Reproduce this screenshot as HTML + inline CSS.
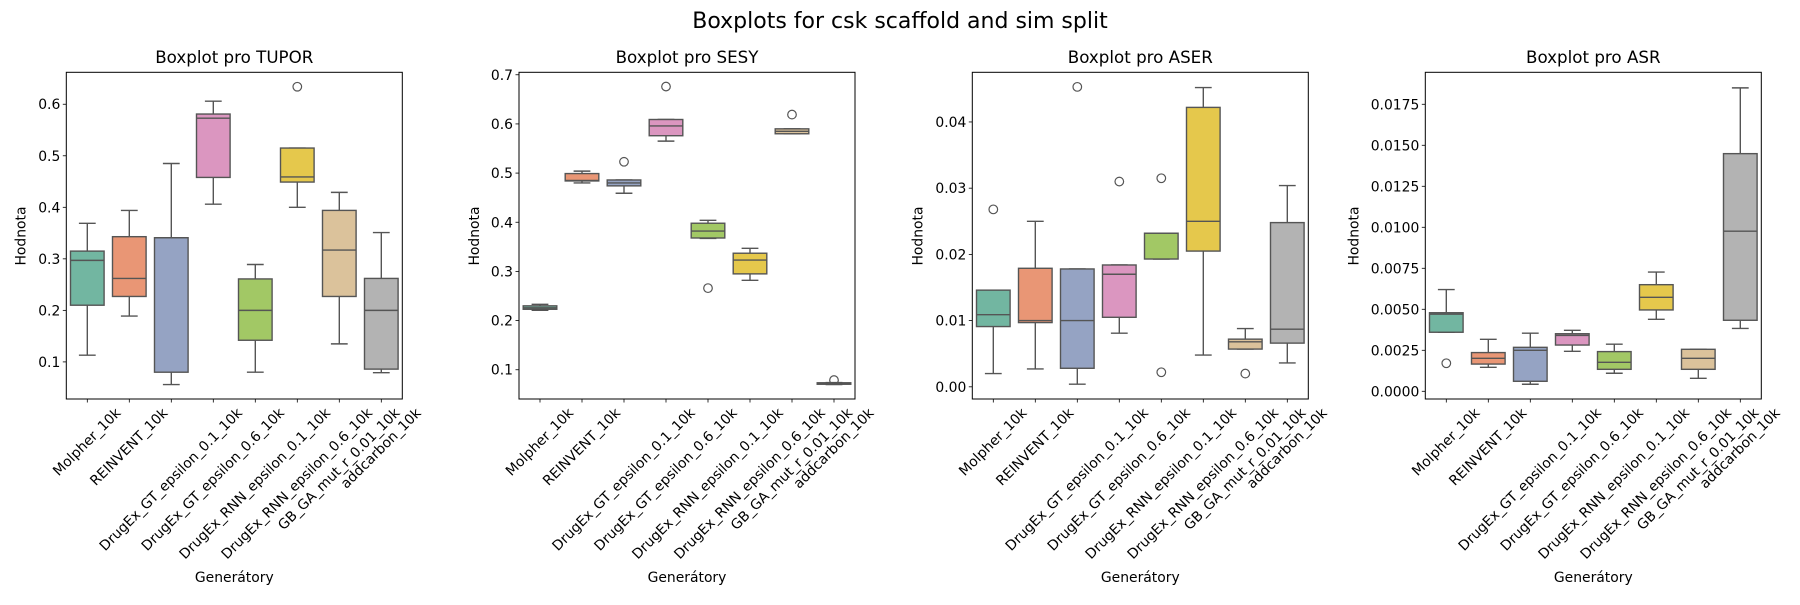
<!DOCTYPE html>
<html><head><meta charset="utf-8"><style>
body{margin:0;background:#fff;}
svg text{font-family:"DejaVu Sans","Liberation Sans",sans-serif;fill:#000;}
</style></head><body>
<svg id="fig" width="1800" height="600" viewBox="0 0 1800 600" xmlns="http://www.w3.org/2000/svg">
<rect width="1800" height="600" fill="#fff"/>
<text x="900" y="28" font-size="22" text-anchor="middle">Boxplots for csk scaffold and sim split</text>
</svg>
<script>
const categories = ["Molpher_10k","REINVENT_10k","DrugEx_GT_epsilon_0.1_10k","DrugEx_GT_epsilon_0.6_10k","DrugEx_RNN_epsilon_0.1_10k","DrugEx_RNN_epsilon_0.6_10k","GB_GA_mut_r_0.01_10k","addcarbon_10k"];
const colors = ["#72b6a1","#e99675","#95a3c3","#db96c0","#a2c865","#e5c84c","#dbc29b","#b3b3b3"];

const tuporLo  = [0.113,0.189,0.056,0.406,0.080,0.400,0.135,0.079];
const tuporQ1  = [0.210,0.227,0.080,0.458,0.142,0.449,0.227,0.086];
const tuporMed = [0.297,0.262,0.341,0.573,0.200,0.459,0.317,0.200];
const tuporQ3  = [0.315,0.343,0.341,0.581,0.261,0.515,0.394,0.262];
const tuporHi  = [0.369,0.394,0.485,0.606,0.289,0.515,0.429,0.351];
const tuporOut = [[5,0.634]];
const tuporTicks = [0.1,0.2,0.3,0.4,0.5,0.6];
const tuporTickLabels = ["0.1","0.2","0.3","0.4","0.5","0.6"];

const sesyLo  = [0.221,0.480,0.459,0.565,0.367,0.282,0.580,0.070];
const sesyQ1  = [0.223,0.484,0.474,0.576,0.368,0.295,0.580,0.0705];
const sesyMed = [0.226,0.485,0.480,0.596,0.382,0.323,0.585,0.072];
const sesyQ3  = [0.230,0.499,0.486,0.609,0.398,0.337,0.590,0.0735];
const sesyHi  = [0.233,0.504,0.486,0.609,0.404,0.347,0.590,0.074];
const sesyOut = [[2,0.523],[3,0.676],[4,0.266],[6,0.619],[7,0.079]];
const sesyTicks = [0.1,0.2,0.3,0.4,0.5,0.6,0.7];
const sesyTickLabels = ["0.1","0.2","0.3","0.4","0.5","0.6","0.7"];

const aserLo  = [0.0020,0.0027,0.0004,0.0081,0.0193,0.0048,0.0057,0.0036];
const aserQ1  = [0.0091,0.0097,0.0028,0.0105,0.0193,0.0205,0.0057,0.0066];
const aserMed = [0.0109,0.0100,0.0100,0.0170,0.0232,0.0250,0.0068,0.0087];
const aserQ3  = [0.0146,0.0179,0.0178,0.0184,0.0232,0.0422,0.0072,0.0248];
const aserHi  = [0.0146,0.0250,0.0178,0.0184,0.0232,0.0452,0.0088,0.0304];
const aserOut = [[0,0.0268],[2,0.0453],[3,0.0310],[4,0.0315],[4,0.0022],[6,0.0020]];
const aserTicks = [0,0.01,0.02,0.03,0.04];
const aserTickLabels = ["0.00","0.01","0.02","0.03","0.04"];

const asrLo  = [0.00360,0.00146,0.00043,0.00244,0.00110,0.00439,0.00079,0.00383];
const asrQ1  = [0.00360,0.00166,0.00061,0.00282,0.00134,0.00496,0.00134,0.00433];
const asrMed = [0.00470,0.00201,0.00250,0.00341,0.00177,0.00573,0.00201,0.00976];
const asrQ3  = [0.00479,0.00236,0.00268,0.00351,0.00242,0.00650,0.00256,0.01449];
const asrHi  = [0.00620,0.00317,0.00354,0.00372,0.00287,0.00727,0.00256,0.01850];
const asrOut = [[0,0.00171]];
const asrTicks = [0,0.0025,0.005,0.0075,0.01,0.0125,0.015,0.0175];
const asrTickLabels = ["0.0000","0.0025","0.0050","0.0075","0.0100","0.0125","0.0150","0.0175"];

const NS="http://www.w3.org/2000/svg";
const svg=document.getElementById('fig');
function mk(tag,attrs,parent){const e=document.createElementNS(NS,tag);for(const k in attrs)e.setAttribute(k,attrs[k]);(parent||svg).appendChild(e);return e;}
const LINE="#555555";
const TOP=72.3, BOT=399, W=336;

function panel(key,left,title,yMin,yMax,lo,q1,med,q3,hi,outs,ticks,tickLabels,ylabelX){
  const g=mk('g',{});
  
  
  const y=v=>BOT-(v-yMin)/(yMax-yMin)*(BOT-TOP);
  const step=W/categories.length;
  const x=i=>left+step*(i+0.5);
  const t=mk('text',{x:left+W/2,y:63,'font-size':16.7,'text-anchor':'middle'},g);
  t.textContent=title;
  
  
  // y ticks
  ticks.forEach((v,i)=>{
    const tk=mk('line',{x1:left-3.5,x2:left,y1:y(v),y2:y(v),stroke:'#000','stroke-width':0.8},g);
    
    
    const tl=mk('text',{x:left-6,y:y(v)+5,'font-size':13.9,'text-anchor':'end'},g);
    tl.textContent=tickLabels[i];
    
    
  });
  const yl=mk('text',{x:ylabelX,y:236,'font-size':13.9,'text-anchor':'middle','transform':`rotate(-90 ${ylabelX} 236)`,'dominant-baseline':'central'},g);
  yl.textContent='Hodnota';
  
  
  const bw=step*0.8;
  categories.forEach((c,i)=>{
    const cx=x(i);
    const bg=mk('g',{},g);
    
    
    const sw=1.4;
    mk('line',{x1:cx,x2:cx,y1:y(hi[i]),y2:y(q3[i]),stroke:LINE,'stroke-width':sw},bg);
    mk('line',{x1:cx,x2:cx,y1:y(q1[i]),y2:y(lo[i]),stroke:LINE,'stroke-width':sw},bg);
    mk('line',{x1:cx-bw/4,x2:cx+bw/4,y1:y(hi[i]),y2:y(hi[i]),stroke:LINE,'stroke-width':sw},bg);
    mk('line',{x1:cx-bw/4,x2:cx+bw/4,y1:y(lo[i]),y2:y(lo[i]),stroke:LINE,'stroke-width':sw},bg);
    const top=y(q3[i]),bot=y(q1[i]);
    mk('rect',{x:cx-bw/2,y:top,width:bw,height:Math.max(bot-top,0.5),fill:colors[i],stroke:LINE,'stroke-width':sw},bg);
    mk('line',{x1:cx-bw/2,x2:cx+bw/2,y1:y(med[i]),y2:y(med[i]),stroke:LINE,'stroke-width':sw},bg);
    // x tick
    const xt=mk('line',{x1:cx,x2:cx,y1:BOT,y2:BOT+3.5,stroke:'#000','stroke-width':0.8},g);
    
    
    const lab=mk('text',{'font-size':13.9,'text-anchor':'middle','dominant-baseline':'central'},g);
    lab.textContent=c;
    
    
    const L=lab.getComputedTextLength();
    const h=13.9;
    const cy=BOT+7+(L+h)*0.7071/2;
    lab.setAttribute('x',cx);lab.setAttribute('y',cy);
    lab.setAttribute('transform',`rotate(-45 ${cx} ${cy})`);
  });
  outs.forEach(o=>{
    const c=mk('circle',{cx:x(o[0]),cy:y(o[1]),r:4.3,fill:'none',stroke:LINE,'stroke-width':1.2},g);
    
    
  });
  const fr=mk('rect',{x:left,y:TOP,width:W,height:BOT-TOP,fill:'none',stroke:'#000','stroke-width':1},g);
  
  
  const xl=mk('text',{x:left+W/2,y:582,'font-size':13.9,'text-anchor':'middle'},g);
  xl.textContent='Generátory';
  
  
}
panel('tupor',66.3,'Boxplot pro TUPOR',0.028,0.662,tuporLo,tuporQ1,tuporMed,tuporQ3,tuporHi,tuporOut,tuporTicks,tuporTickLabels,21.7);
panel('sesy',519,'Boxplot pro SESY',0.0405,0.705,sesyLo,sesyQ1,sesyMed,sesyQ3,sesyHi,sesyOut,sesyTicks,sesyTickLabels,475);
panel('aser',972.3,'Boxplot pro ASER',-0.00184,0.0475,aserLo,aserQ1,aserMed,aserQ3,aserHi,aserOut,aserTicks,aserTickLabels,918.3);
panel('asr',1425.3,'Boxplot pro ASR',-0.00047,0.01945,asrLo,asrQ1,asrMed,asrQ3,asrHi,asrOut,asrTicks,asrTickLabels,1354.3);
</script>
</body></html>
